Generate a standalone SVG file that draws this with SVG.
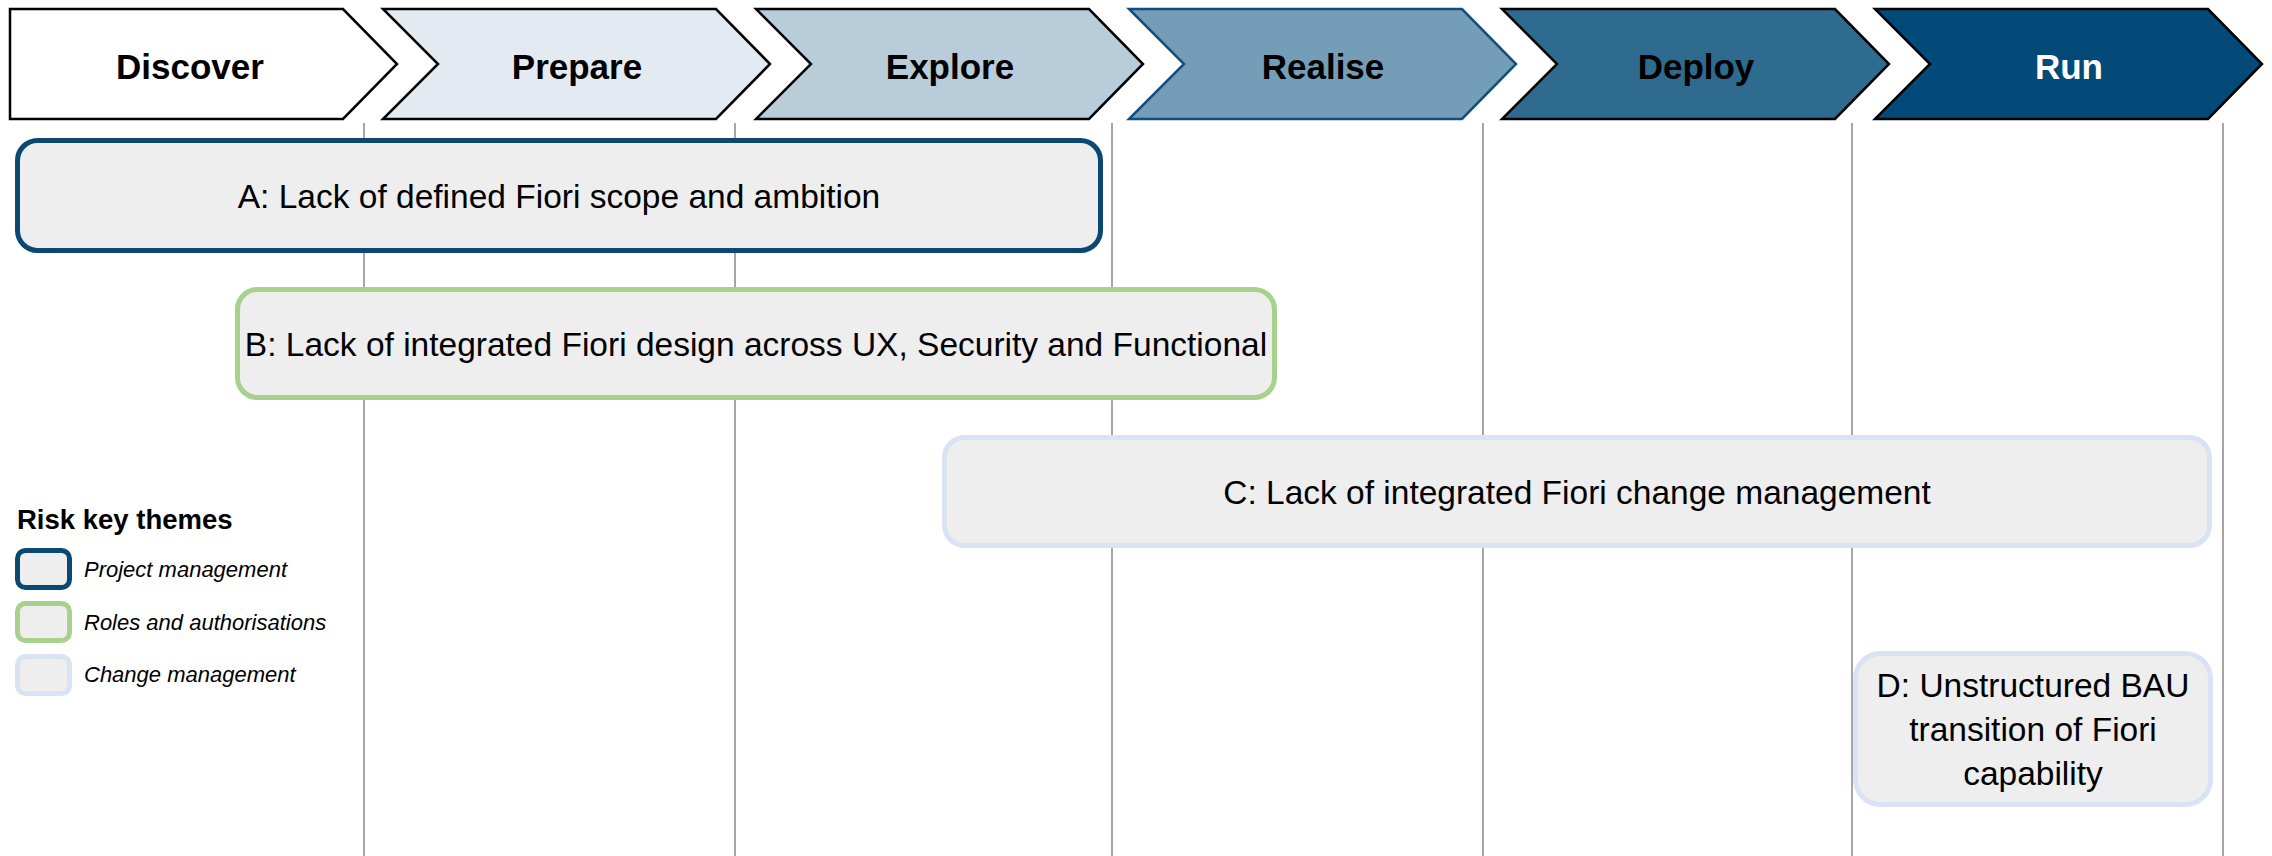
<svg xmlns="http://www.w3.org/2000/svg" width="2272" height="856" viewBox="0 0 2272 856">
<style>
.chev{stroke:#000;stroke-width:2.5;stroke-linejoin:miter}
.ct{font-family:"Liberation Sans",Arial,sans-serif;font-weight:bold;font-size:35px;text-anchor:middle;fill:#000}
.grid{stroke:#A6A6A6;stroke-width:2}
.box{fill:#EEEEEE;stroke-width:5}
.pm{stroke:#0B4874}
.ra{stroke:#A9D18E}
.cm{stroke:#DAE3F3}
.bt{font-family:"Liberation Sans",Arial,sans-serif;font-size:33.5px;text-anchor:middle;fill:#000}
.lt{font-family:"Liberation Sans",Arial,sans-serif;font-style:italic;font-size:22px;fill:#000}
</style>
<rect width="2272" height="856" fill="#FFFFFF"/>
<g id="gridlines">
<line class="grid" x1="364" y1="123" x2="364" y2="856"/>
<line class="grid" x1="735" y1="123" x2="735" y2="856"/>
<line class="grid" x1="1112" y1="123" x2="1112" y2="856"/>
<line class="grid" x1="1483" y1="123" x2="1483" y2="856"/>
<line class="grid" x1="1852" y1="123" x2="1852" y2="856"/>
<line class="grid" x1="2223" y1="123" x2="2223" y2="856"/>
</g>
<g id="phase-discover">
<polygon class="chev" fill="#FFFFFF" points="10,9 343,9 397,64 343,119 10,119"/>
<text class="ct" x="190" y="79">Discover</text>
</g>
<g id="phase-prepare">
<polygon class="chev" fill="#E3EAF1" points="383,9 716,9 770,64 716,119 383,119 438,64"/>
<text class="ct" x="577" y="79">Prepare</text>
</g>
<g id="phase-explore">
<polygon class="chev" fill="#B8CCDA" points="756,9 1089,9 1143,64 1089,119 756,119 811,64"/>
<text class="ct" x="950" y="79">Explore</text>
</g>
<g id="phase-realise">
<polygon class="chev" fill="#749DB8" style="stroke:#134F7C" points="1129,9 1462,9 1516,64 1462,119 1129,119 1184,64"/>
<text class="ct" x="1323" y="79">Realise</text>
</g>
<g id="phase-deploy">
<polygon class="chev" fill="#2F6A8F" points="1502,9 1835,9 1889,64 1835,119 1502,119 1557,64"/>
<text class="ct" x="1696" y="79">Deploy</text>
</g>
<g id="phase-run">
<polygon class="chev" fill="#034A78" points="1875,9 2208,9 2262,64 2208,119 1875,119 1930,64"/>
<text class="ct" x="2069" y="79" style="fill:#FFFFFF">Run</text>
</g>
<g id="risk-a">
<rect class="box pm" x="17.5" y="140.5" width="1083" height="110" rx="20"/>
<text class="bt" x="559" y="207.5">A: Lack of defined Fiori scope and ambition</text>
</g>
<g id="risk-b">
<rect class="box ra" x="237.5" y="289.5" width="1037" height="108" rx="20"/>
<text class="bt" x="756" y="355.5">B: Lack of integrated Fiori design across UX, Security and Functional</text>
</g>
<g id="risk-c">
<rect class="box cm" x="944.5" y="437.5" width="1265" height="108" rx="20"/>
<text class="bt" x="1577" y="503.5">C: Lack of integrated Fiori change management</text>
</g>
<g id="risk-d">
<rect class="box cm" x="1855.5" y="653.5" width="355" height="151" rx="25"/>
<text class="bt" x="2033" y="697">D: Unstructured BAU</text>
<text class="bt" x="2033" y="741">transition of Fiori</text>
<text class="bt" x="2033" y="785">capability</text>
</g>
<g id="legend">
<text x="17" y="529" style="font-family:'Liberation Sans',Arial,sans-serif;font-weight:bold;font-size:27.5px;fill:#000">Risk key themes</text>
<g id="legend-pm">
<rect class="box pm" x="17.5" y="550.5" width="52" height="37" rx="8"/>
<text class="lt" x="84" y="577">Project management</text>
</g>
<g id="legend-ra">
<rect class="box ra" x="17.5" y="603.5" width="52" height="37" rx="8"/>
<text class="lt" x="84" y="630">Roles and authorisations</text>
</g>
<g id="legend-cm">
<rect class="box cm" x="17.5" y="656.5" width="52" height="37" rx="8"/>
<text class="lt" x="84" y="682">Change management</text>
</g>
</g>
</svg>
